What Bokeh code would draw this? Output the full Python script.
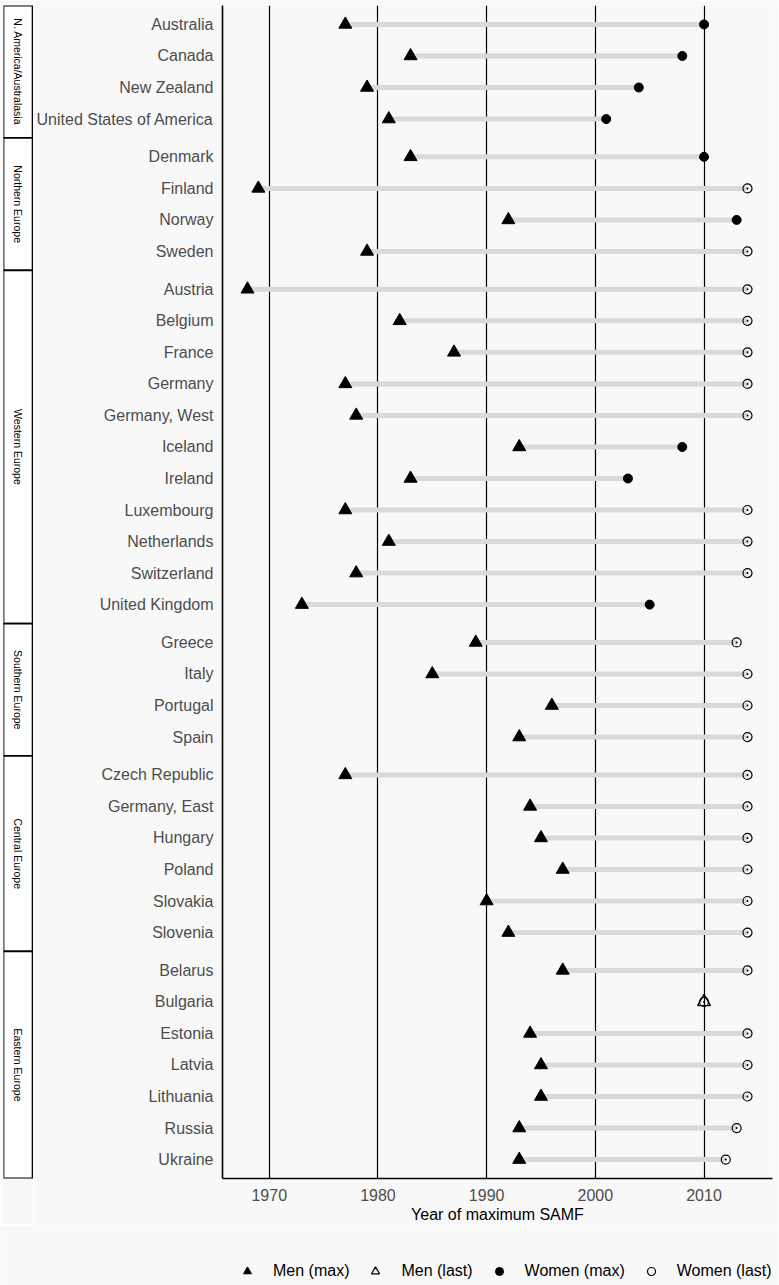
import math
from bokeh.plotting import figure
from bokeh.models import Range1d, FixedTicker, ColumnDataSource, Legend, LegendItem
from bokeh.layouts import row, column
from bokeh.embed import file_html
from bokeh.resources import INLINE
from bokeh.core.properties import value

nan = float("nan")

regions = ["N. America/Australasia", "Northern Europe", "Western Europe",
           "Southern Europe", "Central Europe", "Eastern Europe"]
region_sizes = [4, 4, 11, 4, 6, 7]

countries = [
    "Australia", "Canada", "New Zealand", "United States of America",
    "Denmark", "Finland", "Norway", "Sweden",
    "Austria", "Belgium", "France", "Germany", "Germany, West", "Iceland",
    "Ireland", "Luxembourg", "Netherlands", "Switzerland", "United Kingdom",
    "Greece", "Italy", "Portugal", "Spain",
    "Czech Republic", "Germany, East", "Hungary", "Poland", "Slovakia", "Slovenia",
    "Belarus", "Bulgaria", "Estonia", "Latvia", "Lithuania", "Russia", "Ukraine",
]

men_max = [1977, 1983, 1979, 1981,
           1983, 1969, 1992, 1979,
           1968, 1982, 1987, 1977, 1978, 1993, 1983, 1977, 1981, 1978, 1973,
           1989, 1985, 1996, 1993,
           1977, 1994, 1995, 1997, 1990, 1992,
           1997, nan, 1994, 1995, 1995, 1993, 1993]

men_last = [nan, nan, nan, nan,
            nan, nan, nan, nan,
            nan, nan, nan, nan, nan, nan, nan, nan, nan, nan, nan,
            nan, nan, nan, nan,
            nan, nan, nan, nan, nan, nan,
            nan, 2010, nan, nan, nan, nan, nan]

women_max = [2010, 2008, 2004, 2001,
             2010, nan, 2013, nan,
             nan, nan, nan, nan, nan, 2008, 2003, nan, nan, nan, 2005,
             nan, nan, nan, nan,
             nan, nan, nan, nan, nan, nan,
             nan, nan, nan, nan, nan, nan, nan]

women_last = [nan, nan, nan, nan,
              nan, 2014, nan, 2014,
              2014, 2014, 2014, 2014, 2014, nan, nan, 2014, 2014, 2014, nan,
              2013, 2014, 2014, 2014,
              2014, 2014, 2014, 2014, 2014, 2014,
              2014, 2010, 2014, 2014, 2014, 2013, 2012]

x_ticks = [1970, 1980, 1990, 2000, 2010]
legend_labels = ["Men (max)", "Men (last)", "Women (max)", "Women (last)"]

# --- positions (in tenths of a row) ---
pos = []
starts, ends = [], []
cur = 0
for n in region_sizes:
    starts.append(cur)
    for i in range(n):
        pos.append(cur + 6 + 10 * i)
    cur += 10 * n + 2
    ends.append(cur)
total = cur

women_end = [wm if not math.isnan(wm) else wl for wm, wl in zip(women_max, women_last)]

src = ColumnDataSource(dict(y=pos, men_max=men_max, men_last=men_last,
                            women_max=women_max, women_last=women_last,
                            women_end=women_end))

BG = "#f8f8f8"
FONT = "Liberation Sans"
FH = 1173

p = figure(frame_width=550, frame_height=FH,
           x_range=Range1d(1965.7, 2016.3), y_range=Range1d(total, 0),
           output_backend="svg", toolbar_location=None,
           min_border_left=189, min_border_top=5, min_border_right=6,
           min_border_bottom=0,
           background_fill_color=BG, border_fill_color=BG)
p.outline_line_color = None

p.segment(x0="men_max", y0="y", x1="women_end", y1="y", source=src,
          line_color="#d9d9d9", line_width=5)
p.scatter("men_max", "y", source=src, marker="triangle", size=13,
          fill_color="black", line_color="black")
p.scatter("men_last", "y", source=src, marker="triangle", size=13,
          fill_color=None, line_color="black", line_width=1.3)
p.scatter("women_max", "y", source=src, marker="circle", size=9,
          fill_color="black", line_color="black")
p.scatter("women_last", "y", source=src, marker="circle", size=9,
          fill_color=None, line_color="black", line_width=1.2)
p.scatter("women_last", "y", source=src, marker="circle", size=2,
          fill_color="black", line_color=None)

# axes
p.xaxis.ticker = FixedTicker(ticks=x_ticks)
p.xgrid.ticker = FixedTicker(ticks=x_ticks)
p.xgrid.grid_line_color = "black"
p.xgrid.grid_line_width = 1.2
p.ygrid.visible = False
p.xaxis.axis_label = "Year of maximum SAMF"
p.xaxis.axis_label_text_font_style = "normal"
p.xaxis.axis_label_text_font_size = "16px"
p.xaxis.axis_label_text_font = FONT
p.xaxis.axis_label_text_color = "black"
p.xaxis.axis_label_standoff = 2
p.xaxis.major_label_text_font_size = "16px"
p.xaxis.major_label_text_font = FONT
p.xaxis.major_label_text_color = "#4d4d4d"
p.xaxis.major_label_standoff = 10

p.yaxis.ticker = FixedTicker(ticks=pos)
p.yaxis.major_label_overrides = {pp: c for pp, c in zip(pos, countries)}
p.yaxis.major_label_text_font_size = "16px"
p.yaxis.major_label_text_font = FONT
p.yaxis.major_label_text_color = "#4d4d4d"
p.yaxis.major_label_standoff = 9

for ax in (p.xaxis, p.yaxis):
    ax.major_tick_line_color = None
    ax.minor_tick_line_color = None
    ax.major_tick_out = 0
    ax.major_tick_in = 0
    ax.minor_tick_out = 0
    ax.minor_tick_in = 0
    ax.axis_line_color = "black"
    ax.axis_line_width = 1.6

# strip figure
s = figure(frame_width=30, frame_height=FH,
           x_range=Range1d(0, 1), y_range=p.y_range,
           output_backend="svg", toolbar_location=None,
           min_border=0, min_border_left=3, min_border_right=0,
           min_border_top=5, min_border_bottom=46,
           background_fill_color=BG, border_fill_color=BG)
s.outline_line_color = None
s.axis.visible = False
s.grid.visible = False
ssrc = ColumnDataSource(dict(top=starts, bottom=ends,
                             mid=[(a + b) / 2 for a, b in zip(starts, ends)],
                             label=regions))
s.quad(left=0.0, right=0.97, top="top", bottom="bottom", source=ssrc,
       fill_color="white", line_color="black", line_width=1.8)
s.text(x=0.48, y="mid", text="label", source=ssrc, angle=-math.pi / 2,
       text_align="center", text_baseline="middle", text_font_size="10.5px",
       text_font=value(FONT), text_color="black")

# legend figure (legend keys only; dummy glyphs carry no visible data)
lf = figure(frame_width=778, frame_height=60, x_range=Range1d(0, 1), y_range=Range1d(0, 1),
            output_backend="svg", toolbar_location=None, min_border=0,
            min_border_left=0, min_border_right=0, min_border_top=0, min_border_bottom=0,
            background_fill_color=BG, border_fill_color=BG)
lf.outline_line_color = None
lf.axis.visible = False
lf.grid.visible = False
k1 = lf.scatter(x=[nan], y=[nan], marker="triangle", fill_color="black", line_color="black")
k2 = lf.scatter(x=[nan], y=[nan], marker="triangle", fill_color=None, line_color="black", line_width=1.2)
k3 = lf.scatter(x=[nan], y=[nan], marker="circle", fill_color="black", line_color="black")
k4 = lf.scatter(x=[nan], y=[nan], marker="circle", fill_color=None, line_color="black", line_width=1.2)
legend = Legend(items=[LegendItem(label=lab, renderers=[r])
                       for lab, r in zip(legend_labels, [k1, k2, k3, k4])],
                orientation="horizontal", location=(237, 3))
legend.label_text_font_size = "16px"
legend.label_text_font = FONT
legend.label_text_color = "black"
legend.background_fill_alpha = 0
legend.border_line_color = None
legend.glyph_width = 20
legend.glyph_height = 22
legend.label_height = 20
legend.label_standoff = 16
legend.spacing = 16
legend.margin = 0
legend.padding = 0
lf.add_layout(legend)

layout = column(row(s, p), lf)
open("out.html", "w").write(file_html(layout, INLINE))
